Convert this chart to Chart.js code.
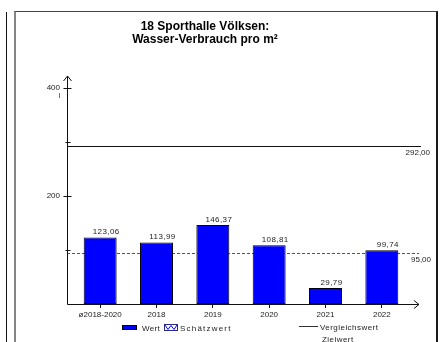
<!DOCTYPE html>
<html>
<head>
<meta charset="utf-8">
<script src="https://cdn.jsdelivr.net/npm/chart.js@4.4.1/dist/chart.umd.min.js"></script>
<style>
  html, body { margin: 0; padding: 0; background: #fff; width: 446px; height: 342px; overflow: hidden; }
  #wrap { position: relative; width: 446px; height: 342px; }
  #c { position: absolute; left: 0; top: 0; }
  .abs { position: absolute; }
  .txt { font-family: 'Liberation Sans', Arial, sans-serif; font-size: 8px; line-height: 9px; color: #222; white-space: nowrap; }
</style>
</head>
<body>
<div id="wrap">
  <div class="abs" style="left:6px;top:12px;width:1px;height:340px;background:#111;"></div>
  <div class="abs" style="left:14px;top:11px;width:420px;height:400px;border-left:2px solid #858585;border-top:1px solid #444;border-right:2px solid #1a1a1a;"></div>
  <canvas id="c" width="446" height="342"></canvas>
  <!-- legend -->
  <div class="abs" style="left:122px;top:325px;width:15px;height:5px;background:#0000ff;border:1px solid #000;box-sizing:border-box;"></div>
  <div class="abs txt" style="left:142px;top:323.5px;letter-spacing:0.3px;">Wert</div>
  <svg class="abs" style="left:164px;top:324px;" width="14" height="7" viewBox="0 0 14 7">
    <rect x="0.5" y="0.5" width="13" height="6" fill="#fff" stroke="#2a2a8a" stroke-width="1"/>
    <polyline points="1,1 4,5.5 7,1.5 10,5.5 13,1" fill="none" stroke="#0000ff" stroke-width="1"/>
  </svg>
  <div class="abs txt" style="left:180px;top:323.5px;letter-spacing:1.2px;">Schätzwert</div>
  <div class="abs" style="left:299px;top:326px;width:19px;height:1px;background:#333;"></div>
  <div class="abs txt" style="left:320px;top:322.5px;letter-spacing:0.45px;">Vergleichswert</div>
  <div class="abs txt" style="left:322px;top:335px;letter-spacing:0.45px;">Zielwert</div>
</div>
<script>
const titleLines = ['18 Sporthalle Völksen:', 'Wasser-Verbrauch pro m²'];
const categories = ['ø2018-2020', '2018', '2019', '2020', '2021', '2022'];
const values = [123.06, 113.99, 146.37, 108.81, 29.79, 99.74];
const yMin = 0;
const yMax = 400;
const yStep = 100;
const yLabeledTicks = [200, 400];
const yMinorTicks = [100, 300];
const yUnit = 'l';
const comparisonValue = 292.00;
const targetValue = 95.00;

const fmt = v => v.toFixed(2).replace('.', ',');
Chart.defaults.font.family = "'Liberation Sans', Arial, sans-serif";

const decor = {
  id: 'decor',
  beforeDatasetsDraw(chart) {
    const {ctx, chartArea: a, scales: {y}} = chart;
    const axisX = a.left - 5;
    ctx.save();
    // comparison line (solid)
    let yy = Math.round(y.getPixelForValue(comparisonValue)) + 0.5;
    ctx.strokeStyle = '#111';
    ctx.lineWidth = 1;
    ctx.beginPath(); ctx.moveTo(axisX, yy); ctx.lineTo(a.right + 11, yy); ctx.stroke();
    ctx.fillStyle = '#222';
    ctx.font = "8px 'Liberation Sans', Arial, sans-serif";
    ctx.textAlign = 'right'; ctx.textBaseline = 'middle';
    ctx.fillText(fmt(comparisonValue), a.right + 20, yy + 6.5);
    // target line (dashed)
    yy = Math.round(y.getPixelForValue(targetValue)) + 0.5;
    ctx.strokeStyle = '#555';
    ctx.setLineDash([3, 2]);
    ctx.beginPath(); ctx.moveTo(axisX, yy); ctx.lineTo(a.right + 9, yy); ctx.stroke();
    ctx.setLineDash([]);
    ctx.fillText(fmt(targetValue), a.right + 21, yy + 6.5);
    ctx.restore();
  },
  afterDatasetsDraw(chart) {
    const {ctx, chartArea: a, scales: {y}} = chart;
    const axisX = a.left - 5 + 0.5;
    const bottom = Math.round(y.getPixelForValue(0)) + 0.5;
    const top = y.getPixelForValue(yMax) - 12;
    ctx.save();
    ctx.strokeStyle = '#111';
    ctx.lineWidth = 1;
    // y axis with arrow
    ctx.beginPath(); ctx.moveTo(axisX, bottom); ctx.lineTo(axisX, top); ctx.stroke();
    ctx.beginPath(); ctx.moveTo(axisX - 4, top + 5); ctx.lineTo(axisX, top); ctx.lineTo(axisX + 4, top + 5); ctx.stroke();
    // x axis with arrow
    const xr = a.right + 9;
    ctx.beginPath(); ctx.moveTo(axisX, bottom); ctx.lineTo(xr, bottom); ctx.stroke();
    ctx.beginPath(); ctx.moveTo(xr - 5, bottom - 4); ctx.lineTo(xr, bottom); ctx.lineTo(xr - 5, bottom + 4); ctx.stroke();
    // y ticks
    yLabeledTicks.forEach(v => {
      const p = Math.round(y.getPixelForValue(v)) + 0.5;
      ctx.beginPath(); ctx.moveTo(axisX - 4, p); ctx.lineTo(axisX + 4, p); ctx.stroke();
    });
    yMinorTicks.forEach(v => {
      const p = Math.round(y.getPixelForValue(v)) + 0.5;
      ctx.beginPath(); ctx.moveTo(axisX - 2, p); ctx.lineTo(axisX + 3, p); ctx.stroke();
    });
    // unit
    ctx.fillStyle = '#222';
    ctx.font = "7px 'Liberation Sans', Arial, sans-serif";
    ctx.textAlign = 'center'; ctx.textBaseline = 'middle';
    ctx.fillText(yUnit, axisX - 8, y.getPixelForValue(yMax) + 8);
    // data labels
    ctx.font = "8px 'Liberation Sans', Arial, sans-serif";
    ctx.letterSpacing = '0.4px';
    const meta = chart.getDatasetMeta(0);
    meta.data.forEach((bar, i) => {
      ctx.fillText(fmt(values[i]), bar.x + 6, bar.y - 5.5);
    });
    ctx.restore();
  }
};

new Chart(document.getElementById('c'), {
  type: 'bar',
  data: {
    labels: categories,
    datasets: [{
      label: 'Wert',
      data: values,
      backgroundColor: '#0000ff',
      borderColor: '#000',
      borderWidth: 1,
      borderSkipped: false,
      barPercentage: 0.585,
      categoryPercentage: 1
    }]
  },
  options: {
    responsive: false,
    animation: false,
    devicePixelRatio: 1,
    layout: { padding: { left: 0, right: 36, top: 0, bottom: 0 } },
    plugins: {
      legend: { display: false },
      tooltip: { enabled: false },
      title: {
        display: true,
        text: titleLines,
        color: '#000',
        font: { size: 12, weight: 'bold', lineHeight: 1.1 },
        padding: { top: 20, bottom: 41.6 }
      }
    },
    scales: {
      x: {
        afterFit(s) { s.height = 38; },
        border: { display: false },
        grid: { display: true, drawOnChartArea: false, drawTicks: true, tickLength: 4, offset: false, color: '#111' },
        ticks: { color: '#222', font: { size: 8 }, padding: 2, maxRotation: 0, autoSkip: false }
      },
      y: {
        min: yMin,
        max: yMax,
        afterFit(s) { s.width = 72; },
        border: { display: false },
        grid: { display: false, drawTicks: false },
        ticks: {
          stepSize: yStep,
          color: '#222',
          font: { size: 8 },
          padding: 12,
          callback: v => yLabeledTicks.includes(v) ? String(v) : ''
        }
      }
    }
  },
  plugins: [decor]
});
</script>
</body>
</html>
